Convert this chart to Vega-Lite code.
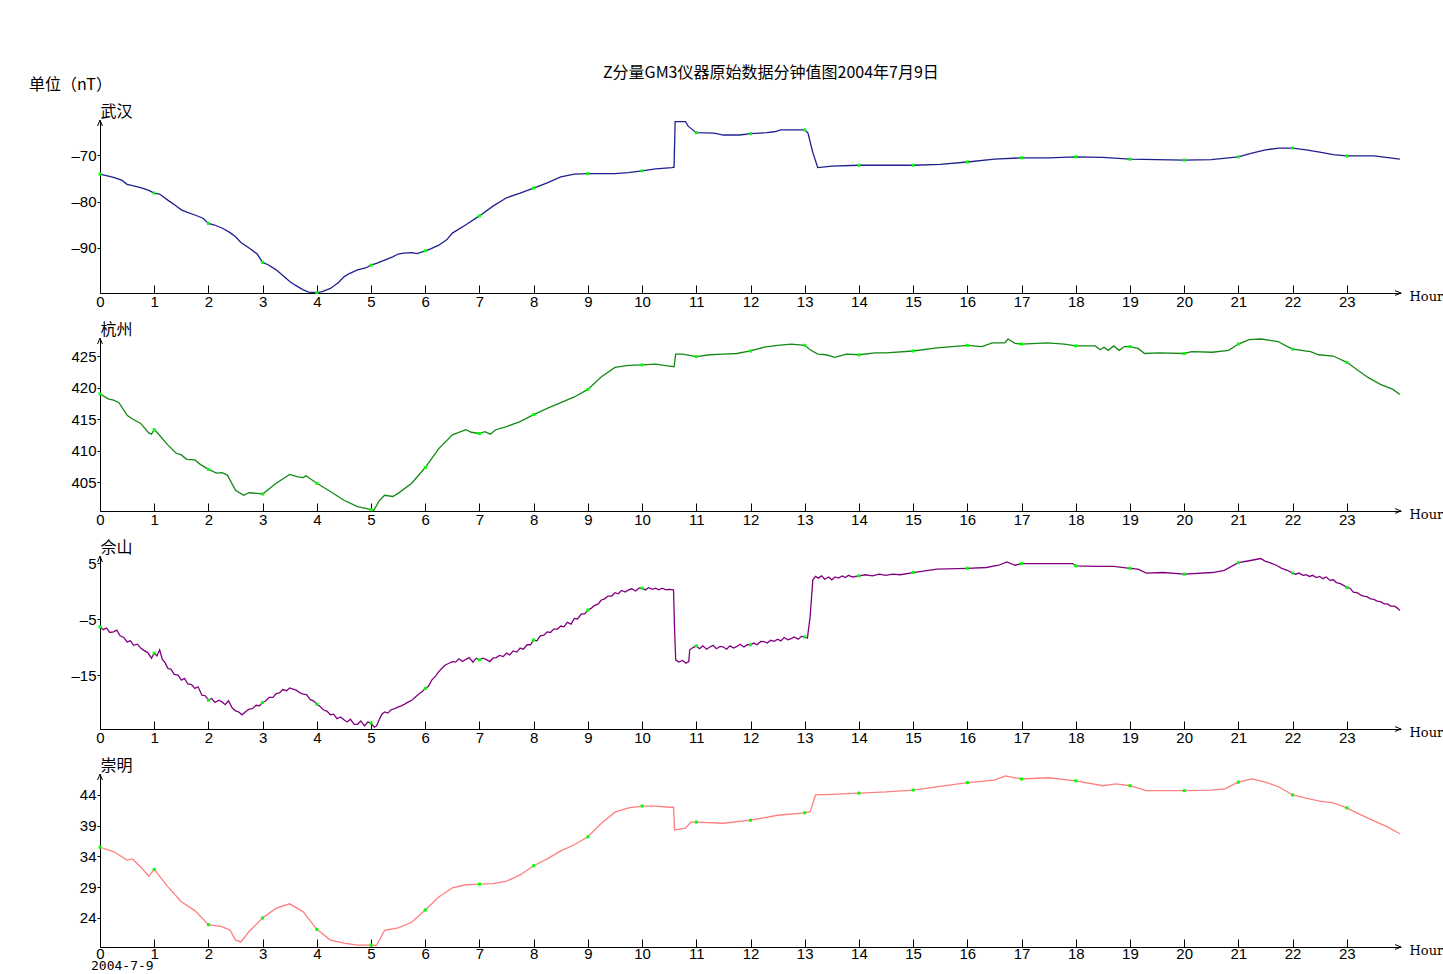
{
  "$schema": "https://vega.github.io/schema/vega-lite/v6.json",
  "background": "white",
  "padding": {"left": 28, "top": 65, "right": 0, "bottom": 0},
  "title": {"text": "Z分量GM3仪器原始数据分钟值图2004年7月9日", "font": "Noto Sans CJK SC", "fontSize": 16, "fontWeight": "normal", "anchor": "middle", "dx": 35, "offset": -4, "color": "black"},
  "datasets": {
    "wh": [
      {"h":0,"v":-74.1},{"h":0.25,"v":-74.8},{"h":0.4,"v":-75.4},{"h":0.5,"v":-76.3},{"h":0.6,"v":-76.6},{"h":0.75,"v":-77.0},{"h":0.9,"v":-77.6},
      {"h":1,"v":-78.2},{"h":1.1,"v":-78.4},{"h":1.25,"v":-79.7},{"h":1.4,"v":-80.9},{"h":1.5,"v":-81.8},{"h":1.6,"v":-82.3},{"h":1.75,"v":-82.9},{"h":1.9,"v":-83.6},
      {"h":2,"v":-84.7},{"h":2.1,"v":-85.0},{"h":2.25,"v":-85.7},{"h":2.4,"v":-86.7},{"h":2.5,"v":-87.6},{"h":2.6,"v":-88.8},{"h":2.75,"v":-90.0},{"h":2.9,"v":-91.3},
      {"h":3,"v":-93.1},{"h":3.1,"v":-93.6},{"h":3.25,"v":-94.7},{"h":3.4,"v":-96.2},{"h":3.5,"v":-97.2},{"h":3.6,"v":-98.0},{"h":3.75,"v":-99.0},{"h":3.85,"v":-99.5},
      {"h":4,"v":-99.6},{"h":4.1,"v":-99.4},{"h":4.25,"v":-98.7},{"h":4.4,"v":-97.4},{"h":4.5,"v":-96.2},{"h":4.6,"v":-95.5},{"h":4.75,"v":-94.7},{"h":4.9,"v":-94.3},
      {"h":5,"v":-93.7},{"h":5.1,"v":-93.3},{"h":5.25,"v":-92.6},{"h":5.4,"v":-91.9},{"h":5.5,"v":-91.3},{"h":5.6,"v":-91.1},{"h":5.75,"v":-91.0},{"h":5.85,"v":-91.2},
      {"h":6,"v":-90.6},{"h":6.1,"v":-90.2},{"h":6.25,"v":-89.4},{"h":6.4,"v":-88.2},{"h":6.5,"v":-86.8},{"h":6.75,"v":-85.0},
      {"h":7,"v":-83.1},{"h":7.25,"v":-81.0},{"h":7.5,"v":-79.2},{"h":7.75,"v":-78.2},{"h":8,"v":-77.1},{"h":8.25,"v":-76.0},{"h":8.5,"v":-74.7},{"h":8.75,"v":-74.1},
      {"h":9,"v":-74.0},{"h":9.5,"v":-74.0},{"h":9.75,"v":-73.8},{"h":10,"v":-73.4},{"h":10.25,"v":-73.0},{"h":10.55,"v":-72.7},{"h":10.59,"v":-72.6},
      {"h":10.61,"v":-62.8},{"h":10.8,"v":-62.8},{"h":10.85,"v":-63.8},{"h":11,"v":-65.2},{"h":11.33,"v":-65.3},{"h":11.5,"v":-65.7},{"h":11.8,"v":-65.7},
      {"h":12,"v":-65.4},{"h":12.3,"v":-65.2},{"h":12.44,"v":-65.0},{"h":12.56,"v":-64.6},{"h":13,"v":-64.6},{"h":13.06,"v":-65.3},{"h":13.15,"v":-69.5},{"h":13.24,"v":-72.7},
      {"h":13.5,"v":-72.4},{"h":14,"v":-72.2},{"h":14.5,"v":-72.2},{"h":15,"v":-72.2},{"h":15.5,"v":-72.0},{"h":16,"v":-71.5},{"h":16.5,"v":-70.9},
      {"h":17,"v":-70.6},{"h":17.5,"v":-70.6},{"h":18,"v":-70.4},{"h":18.5,"v":-70.5},{"h":19,"v":-70.9},{"h":19.5,"v":-71.0},{"h":20,"v":-71.1},{"h":20.5,"v":-71.0},
      {"h":21,"v":-70.4},{"h":21.25,"v":-69.6},{"h":21.5,"v":-68.9},{"h":21.75,"v":-68.5},{"h":22,"v":-68.5},{"h":22.25,"v":-68.9},{"h":22.5,"v":-69.4},{"h":22.75,"v":-69.9},
      {"h":23,"v":-70.2},{"h":23.5,"v":-70.2},{"h":23.98,"v":-70.9}
    ],
    "hz": [
      {"h":0,"v":419.0},{"h":0.15,"v":418.2},{"h":0.25,"v":418.0},{"h":0.35,"v":417.6},{"h":0.5,"v":415.6},{"h":0.6,"v":415.0},{"h":0.75,"v":414.3},{"h":0.9,"v":412.8},{"h":0.95,"v":412.6},
      {"h":1,"v":413.3},{"h":1.05,"v":412.9},{"h":1.25,"v":410.9},{"h":1.4,"v":409.6},{"h":1.5,"v":409.3},{"h":1.6,"v":408.6},{"h":1.75,"v":408.5},{"h":1.85,"v":407.8},
      {"h":2,"v":407.0},{"h":2.15,"v":406.4},{"h":2.25,"v":406.5},{"h":2.35,"v":406.1},{"h":2.5,"v":403.7},{"h":2.65,"v":402.9},{"h":2.75,"v":403.3},{"h":2.9,"v":403.2},
      {"h":3,"v":403.1},{"h":3.25,"v":404.8},{"h":3.5,"v":406.2},{"h":3.65,"v":405.8},{"h":3.75,"v":405.7},{"h":3.8,"v":406.0},
      {"h":4,"v":404.8},{"h":4.25,"v":403.5},{"h":4.5,"v":402.1},{"h":4.75,"v":401.1},{"h":4.9,"v":400.8},
      {"h":5,"v":400.6},{"h":5.05,"v":400.5},{"h":5.15,"v":402.0},{"h":5.25,"v":402.9},{"h":5.4,"v":402.7},{"h":5.5,"v":403.2},{"h":5.75,"v":404.8},
      {"h":6,"v":407.3},{"h":6.25,"v":410.3},{"h":6.5,"v":412.5},{"h":6.75,"v":413.3},{"h":6.85,"v":412.9},
      {"h":7,"v":412.7},{"h":7.1,"v":413.0},{"h":7.2,"v":412.6},{"h":7.3,"v":413.3},{"h":7.5,"v":413.8},{"h":7.75,"v":414.6},
      {"h":8,"v":415.7},{"h":8.25,"v":416.7},{"h":8.5,"v":417.6},{"h":8.75,"v":418.5},{"h":9,"v":419.7},{"h":9.25,"v":421.7},{"h":9.5,"v":423.2},{"h":9.75,"v":423.5},
      {"h":10,"v":423.6},{"h":10.25,"v":423.7},{"h":10.5,"v":423.4},{"h":10.59,"v":423.3},{"h":10.62,"v":425.3},{"h":10.75,"v":425.3},
      {"h":11,"v":424.9},{"h":11.25,"v":425.2},{"h":11.5,"v":425.3},{"h":11.75,"v":425.4},{"h":12,"v":425.8},{"h":12.25,"v":426.4},{"h":12.5,"v":426.7},{"h":12.75,"v":426.9},
      {"h":13,"v":426.7},{"h":13.1,"v":426.0},{"h":13.24,"v":425.3},{"h":13.4,"v":425.2},{"h":13.55,"v":424.8},{"h":13.77,"v":425.3},
      {"h":14,"v":425.2},{"h":14.3,"v":425.5},{"h":14.5,"v":425.5},{"h":15,"v":425.8},{"h":15.44,"v":426.3},{"h":16,"v":426.7},{"h":16.27,"v":426.5},{"h":16.46,"v":427.1},
      {"h":16.69,"v":427.1},{"h":16.75,"v":427.7},{"h":16.88,"v":427.0},{"h":17,"v":426.9},{"h":17.48,"v":427.1},{"h":17.79,"v":426.9},
      {"h":18,"v":426.6},{"h":18.36,"v":426.6},{"h":18.45,"v":426.0},{"h":18.52,"v":426.4},{"h":18.6,"v":425.9},{"h":18.7,"v":426.6},{"h":18.8,"v":425.9},{"h":18.9,"v":426.5},
      {"h":19,"v":426.5},{"h":19.15,"v":426.2},{"h":19.27,"v":425.4},{"h":19.53,"v":425.5},{"h":20,"v":425.4},{"h":20.14,"v":425.7},{"h":20.52,"v":425.6},{"h":20.82,"v":425.9},
      {"h":21,"v":426.9},{"h":21.2,"v":427.6},{"h":21.42,"v":427.7},{"h":21.73,"v":427.3},{"h":21.88,"v":426.6},
      {"h":22,"v":426.1},{"h":22.33,"v":425.7},{"h":22.48,"v":425.2},{"h":22.75,"v":425.0},{"h":23,"v":424.0},{"h":23.39,"v":421.6},{"h":23.62,"v":420.5},{"h":23.85,"v":419.7},{"h":23.98,"v":418.9}
    ],
    "ss": [
      {"h":0,"v":-6.4},{"h":0.06,"v":-6.9},{"h":0.12,"v":-6.6},{"h":0.18,"v":-7.4},{"h":0.25,"v":-7.3},{"h":0.31,"v":-7.0},{"h":0.37,"v":-8.0},{"h":0.44,"v":-8.3},
      {"h":0.5,"v":-9.1},{"h":0.56,"v":-8.9},{"h":0.62,"v":-9.7},{"h":0.69,"v":-9.5},{"h":0.75,"v":-10.2},{"h":0.81,"v":-10.6},{"h":0.88,"v":-11.0},{"h":0.95,"v":-12.0},
      {"h":1,"v":-11.1},{"h":1.05,"v":-11.6},{"h":1.1,"v":-10.5},{"h":1.15,"v":-12.2},{"h":1.2,"v":-12.8},{"h":1.25,"v":-13.8},{"h":1.31,"v":-14.0},{"h":1.37,"v":-14.9},{"h":1.44,"v":-15.0},
      {"h":1.5,"v":-15.9},{"h":1.56,"v":-15.6},{"h":1.62,"v":-16.6},{"h":1.69,"v":-16.7},{"h":1.75,"v":-17.4},{"h":1.81,"v":-17.1},{"h":1.88,"v":-18.6},{"h":1.94,"v":-18.7},
      {"h":2,"v":-19.5},{"h":2.06,"v":-19.2},{"h":2.12,"v":-19.9},{"h":2.19,"v":-19.5},{"h":2.25,"v":-19.8},{"h":2.31,"v":-20.3},{"h":2.37,"v":-19.6},{"h":2.44,"v":-20.9},
      {"h":2.5,"v":-21.4},{"h":2.56,"v":-21.6},{"h":2.62,"v":-22.1},{"h":2.69,"v":-21.5},{"h":2.75,"v":-21.1},{"h":2.81,"v":-21.0},{"h":2.88,"v":-20.4},{"h":2.94,"v":-20.5},
      {"h":3,"v":-19.9},{"h":3.06,"v":-19.6},{"h":3.12,"v":-19.0},{"h":3.19,"v":-19.0},{"h":3.25,"v":-18.3},{"h":3.31,"v":-18.2},{"h":3.37,"v":-17.6},{"h":3.44,"v":-17.8},
      {"h":3.5,"v":-17.3},{"h":3.56,"v":-17.5},{"h":3.62,"v":-17.7},{"h":3.69,"v":-18.2},{"h":3.75,"v":-18.4},{"h":3.81,"v":-18.5},{"h":3.88,"v":-19.4},{"h":3.94,"v":-19.6},
      {"h":4,"v":-20.2},{"h":4.06,"v":-20.6},{"h":4.12,"v":-21.2},{"h":4.19,"v":-21.5},{"h":4.25,"v":-22.1},{"h":4.31,"v":-22.0},{"h":4.37,"v":-22.8},{"h":4.44,"v":-22.5},
      {"h":4.5,"v":-23.0},{"h":4.56,"v":-23.4},{"h":4.62,"v":-22.9},{"h":4.69,"v":-23.8},{"h":4.75,"v":-23.8},{"h":4.81,"v":-23.2},{"h":4.88,"v":-24.1},{"h":4.94,"v":-23.4},
      {"h":5,"v":-23.6},{"h":5.06,"v":-24.3},{"h":5.1,"v":-24.1},{"h":5.15,"v":-23.0},{"h":5.2,"v":-22.0},{"h":5.25,"v":-21.6},{"h":5.31,"v":-21.8},{"h":5.37,"v":-21.2},{"h":5.44,"v":-21.0},
      {"h":5.5,"v":-20.7},{"h":5.56,"v":-20.5},{"h":5.62,"v":-20.2},{"h":5.69,"v":-19.8},{"h":5.75,"v":-19.5},{"h":5.81,"v":-19.0},{"h":5.88,"v":-18.4},{"h":5.94,"v":-18.0},
      {"h":6,"v":-17.4},{"h":6.06,"v":-17.0},{"h":6.12,"v":-15.9},{"h":6.19,"v":-15.2},{"h":6.25,"v":-14.4},{"h":6.31,"v":-13.8},{"h":6.37,"v":-13.2},{"h":6.44,"v":-12.9},
      {"h":6.5,"v":-12.6},{"h":6.56,"v":-12.7},{"h":6.62,"v":-12.1},{"h":6.69,"v":-12.6},{"h":6.75,"v":-12.2},{"h":6.81,"v":-11.9},{"h":6.88,"v":-12.7},{"h":6.94,"v":-12.0},
      {"h":7,"v":-12.3},{"h":7.06,"v":-12.0},{"h":7.12,"v":-12.2},{"h":7.19,"v":-12.6},{"h":7.25,"v":-12.0},{"h":7.31,"v":-11.9},{"h":7.37,"v":-11.5},{"h":7.44,"v":-11.7},
      {"h":7.5,"v":-11.1},{"h":7.56,"v":-11.4},{"h":7.62,"v":-10.7},{"h":7.69,"v":-10.9},{"h":7.75,"v":-10.2},{"h":7.81,"v":-10.4},{"h":7.88,"v":-9.6},{"h":7.94,"v":-9.6},
      {"h":8,"v":-8.75},{"h":8.06,"v":-8.9},{"h":8.12,"v":-8.0},{"h":8.19,"v":-7.9},{"h":8.25,"v":-7.3},{"h":8.31,"v":-7.4},{"h":8.37,"v":-6.8},{"h":8.44,"v":-6.8},
      {"h":8.5,"v":-6.25},{"h":8.56,"v":-6.4},{"h":8.62,"v":-5.6},{"h":8.69,"v":-5.9},{"h":8.75,"v":-4.9},{"h":8.81,"v":-5.0},{"h":8.88,"v":-4.1},{"h":8.94,"v":-4.1},
      {"h":9,"v":-3.4},{"h":9.06,"v":-3.1},{"h":9.12,"v":-2.6},{"h":9.19,"v":-2.3},{"h":9.25,"v":-1.6},{"h":9.31,"v":-1.4},{"h":9.37,"v":-0.9},{"h":9.44,"v":-0.9},
      {"h":9.5,"v":-0.3},{"h":9.56,"v":-0.5},{"h":9.62,"v":0.1},{"h":9.69,"v":-0.2},{"h":9.75,"v":0.2},{"h":9.81,"v":0.4},{"h":9.88,"v":0.0},{"h":9.94,"v":0.5},
      {"h":10,"v":0.5},{"h":10.06,"v":0.2},{"h":10.12,"v":0.6},{"h":10.19,"v":0.3},{"h":10.25,"v":0.5},{"h":10.31,"v":0.2},{"h":10.37,"v":0.5},{"h":10.44,"v":0.2},
      {"h":10.5,"v":0.3},{"h":10.58,"v":0.2},{"h":10.6,"v":-7.0},{"h":10.62,"v":-12.3},{"h":10.68,"v":-12.7},{"h":10.75,"v":-12.4},{"h":10.81,"v":-12.9},{"h":10.86,"v":-12.6},
      {"h":10.88,"v":-10.5},{"h":10.94,"v":-10.1},
      {"h":11,"v":-9.8},{"h":11.06,"v":-10.3},{"h":11.12,"v":-9.8},{"h":11.19,"v":-10.4},{"h":11.25,"v":-10.0},{"h":11.31,"v":-9.7},{"h":11.37,"v":-10.3},{"h":11.44,"v":-9.9},
      {"h":11.5,"v":-10.0},{"h":11.56,"v":-10.4},{"h":11.62,"v":-9.8},{"h":11.69,"v":-10.2},{"h":11.75,"v":-9.9},{"h":11.81,"v":-9.5},{"h":11.88,"v":-10.0},{"h":11.94,"v":-9.6},
      {"h":12,"v":-9.6},{"h":12.06,"v":-9.3},{"h":12.12,"v":-9.6},{"h":12.19,"v":-9.0},{"h":12.25,"v":-9.05},{"h":12.31,"v":-9.3},{"h":12.37,"v":-8.8},{"h":12.44,"v":-9.0},
      {"h":12.5,"v":-8.6},{"h":12.56,"v":-8.9},{"h":12.62,"v":-8.3},{"h":12.69,"v":-8.7},{"h":12.75,"v":-8.5},{"h":12.81,"v":-8.2},{"h":12.88,"v":-8.6},{"h":12.94,"v":-8.1},
      {"h":13,"v":-8.2},{"h":13.05,"v":-8.4},{"h":13.1,"v":-4.6},{"h":13.15,"v":2.0},{"h":13.2,"v":2.6},{"h":13.25,"v":2.3},{"h":13.31,"v":2.7},{"h":13.37,"v":2.1},{"h":13.44,"v":2.5},
      {"h":13.5,"v":2.0},{"h":13.56,"v":2.5},{"h":13.62,"v":2.3},{"h":13.69,"v":2.7},{"h":13.75,"v":2.4},{"h":13.81,"v":2.8},{"h":13.88,"v":2.5},
      {"h":14,"v":2.7},{"h":14.12,"v":2.9},{"h":14.25,"v":2.7},{"h":14.37,"v":3.0},{"h":14.5,"v":2.8},{"h":14.62,"v":3.0},{"h":14.76,"v":2.9},{"h":15,"v":3.3},{"h":15.44,"v":3.9},
      {"h":16,"v":4.05},{"h":16.35,"v":4.2},{"h":16.58,"v":4.6},{"h":16.73,"v":5.2},{"h":16.88,"v":4.6},
      {"h":17,"v":4.9},{"h":17.48,"v":4.9},{"h":17.94,"v":4.9},{"h":18,"v":4.5},{"h":18.39,"v":4.4},{"h":18.7,"v":4.4},
      {"h":19,"v":4.05},{"h":19.15,"v":3.9},{"h":19.3,"v":3.2},{"h":19.61,"v":3.3},{"h":20,"v":3.0},{"h":20.52,"v":3.3},{"h":20.74,"v":3.7},
      {"h":21,"v":5.05},{"h":21.2,"v":5.4},{"h":21.41,"v":5.8},{"h":21.5,"v":5.3},{"h":21.58,"v":5.05},{"h":21.7,"v":4.6},{"h":21.8,"v":4.05},{"h":21.9,"v":3.7},
      {"h":22,"v":3.2},{"h":22.06,"v":3.0},{"h":22.12,"v":3.2},{"h":22.19,"v":2.8},{"h":22.25,"v":2.9},{"h":22.31,"v":2.6},{"h":22.37,"v":2.8},{"h":22.44,"v":2.4},
      {"h":22.5,"v":2.6},{"h":22.56,"v":2.2},{"h":22.62,"v":2.5},{"h":22.69,"v":1.9},{"h":22.75,"v":2.0},{"h":22.81,"v":1.5},{"h":22.88,"v":1.3},{"h":22.94,"v":1.0},
      {"h":23,"v":0.65},{"h":23.06,"v":0.5},{"h":23.12,"v":-0.2},{"h":23.19,"v":-0.3},{"h":23.25,"v":-0.7},{"h":23.31,"v":-0.9},{"h":23.37,"v":-1.0},{"h":23.44,"v":-1.4},
      {"h":23.5,"v":-1.5},{"h":23.56,"v":-1.8},{"h":23.62,"v":-1.9},{"h":23.69,"v":-2.3},{"h":23.75,"v":-2.3},{"h":23.81,"v":-2.7},{"h":23.88,"v":-2.7},{"h":23.94,"v":-3.1},{"h":23.98,"v":-3.5}
    ],
    "cm": [
      {"h":0,"v":35.5},{"h":0.25,"v":34.8},{"h":0.5,"v":33.4},{"h":0.6,"v":33.6},{"h":0.75,"v":32.3},{"h":0.9,"v":30.8},
      {"h":1,"v":31.9},{"h":1.25,"v":29.1},{"h":1.5,"v":26.65},{"h":1.75,"v":25.2},
      {"h":2,"v":22.9},{"h":2.25,"v":22.6},{"h":2.4,"v":22.0},{"h":2.5,"v":20.4},{"h":2.6,"v":20.1},{"h":2.75,"v":21.8},
      {"h":3,"v":24.0},{"h":3.25,"v":25.6},{"h":3.5,"v":26.3},{"h":3.75,"v":25.0},
      {"h":4,"v":22.15},{"h":4.25,"v":20.4},{"h":4.5,"v":19.9},{"h":4.75,"v":19.6},
      {"h":5,"v":19.6},{"h":5.1,"v":19.5},{"h":5.25,"v":22.0},{"h":5.5,"v":22.4},{"h":5.75,"v":23.3},
      {"h":6,"v":25.3},{"h":6.25,"v":27.4},{"h":6.5,"v":28.9},{"h":6.75,"v":29.4},
      {"h":7,"v":29.5},{"h":7.25,"v":29.6},{"h":7.5,"v":30.0},{"h":7.75,"v":31.0},
      {"h":8,"v":32.5},{"h":8.25,"v":33.6},{"h":8.5,"v":34.9},{"h":8.75,"v":35.9},
      {"h":9,"v":37.2},{"h":9.25,"v":39.4},{"h":9.5,"v":41.2},{"h":9.75,"v":41.9},
      {"h":10,"v":42.2},{"h":10.25,"v":42.2},{"h":10.5,"v":42.0},{"h":10.58,"v":42.0},{"h":10.6,"v":38.3},{"h":10.8,"v":38.6},{"h":10.9,"v":39.6},
      {"h":11,"v":39.6},{"h":11.5,"v":39.4},{"h":12,"v":39.9},{"h":12.5,"v":40.7},
      {"h":13,"v":41.1},{"h":13.1,"v":41.3},{"h":13.2,"v":44.0},{"h":13.5,"v":44.1},
      {"h":14,"v":44.3},{"h":14.5,"v":44.5},{"h":15,"v":44.8},{"h":15.5,"v":45.4},
      {"h":16,"v":46.0},{"h":16.5,"v":46.4},{"h":16.7,"v":47.1},{"h":17,"v":46.6},{"h":17.5,"v":46.8},
      {"h":18,"v":46.3},{"h":18.5,"v":45.5},{"h":18.75,"v":45.8},{"h":19,"v":45.5},{"h":19.3,"v":44.7},
      {"h":20,"v":44.7},{"h":20.5,"v":44.8},{"h":20.75,"v":45.0},
      {"h":21,"v":46.1},{"h":21.25,"v":46.6},{"h":21.5,"v":46.1},{"h":21.75,"v":45.3},
      {"h":22,"v":44.0},{"h":22.25,"v":43.5},{"h":22.5,"v":43.0},{"h":22.75,"v":42.7},
      {"h":23,"v":41.9},{"h":23.25,"v":40.8},{"h":23.5,"v":39.8},{"h":23.75,"v":38.8},{"h":23.98,"v":37.7}
    ]
  },
  "config": {
    "view": {"stroke": null},
    "axis": {"domainColor": "black", "tickColor": "black", "labelColor": "black", "titleColor": "black", "grid": false, "labelFont": "Liberation Sans", "labelFontSize": 15, "domainWidth": 1, "tickWidth": 1}
  },
  "bounds": "flush",
  "spacing": 45,
  "vconcat": [
    {
      "width": 1301, "height": 173,
      "title": {"text": "单位（nT）", "anchor": "start", "dx": -42, "offset": 10, "font": "Noto Sans CJK SC", "fontSize": 16, "fontWeight": "normal", "color": "black"},
      "data": {"name": "wh"},
      "layer": [
        {"mark": {"type": "line", "color": "#1f1f8f", "strokeWidth": 1.3},
         "encoding": {
           "x": {"field": "h", "type": "quantitative", "scale": {"domain": [0, 24], "nice": false, "zero": false},
                 "axis": {"values": [0,0.5,1,1.5,2,2.5,3,3.5,4,4.5,5,5.5,6,6.5,7,7.5,8,8.5,9,9.5,10,10.5,11,11.5,12,12.5,13,13.5,14,14.5,15,15.5,16,16.5,17,17.5,18,18.5,19,19.5,20,20.5,21,21.5,22,22.5,23,23.5],
                          "labelExpr": "datum.value % 1 === 0 ? datum.value : ''", "labelOverlap": false, "labelFlush": false, "labelPadding": 9,
                          "tickSize": {"condition": {"test": "datum.value % 1 === 0", "value": -8}, "value": -5},
                          "title": "Hour", "titleX": 1309, "titleY": 3, "titleAlign": "left", "titleBaseline": "middle", "titleAngle": 0, "titleFont": "DejaVu Serif", "titleFontSize": 13, "titleFontWeight": "normal"}},
           "y": {"field": "v", "type": "quantitative", "scale": {"domain": [-99.68, -62.47], "nice": false, "zero": false},
                 "axis": {"values": [-90, -80, -70], "labelExpr": "replace(datum.label, '−', '–')", "tickSize": 3, "labelPadding": 1,
                          "title": "武汉", "titleAngle": 0, "titleX": 0, "titleY": -4, "titleAlign": "left", "titleBaseline": "alphabetic", "titleFont": "Noto Sans CJK SC", "titleFontSize": 16, "titleFontWeight": "normal"}}
         }},
        {"transform": [{"filter": "datum.h % 1 === 0"}],
         "mark": {"type": "square", "color": "#00ff00", "size": 9, "opacity": 1},
         "encoding": {"x": {"field": "h", "type": "quantitative"}, "y": {"field": "v", "type": "quantitative"}}},
        {"data": {"values": [{}]}, "mark": {"type": "point", "shape": "M-0.8,2L0,0L0.8,2", "filled": false, "stroke": "black", "strokeWidth": 1, "size": 36, "opacity": 1},
         "encoding": {"x": {"datum": 0}, "y": {"datum": -62.47}}},
        {"data": {"values": [{}]}, "mark": {"type": "point", "shape": "M-2,-0.8L0,0L-2,0.8", "filled": false, "stroke": "black", "strokeWidth": 1, "size": 36, "opacity": 1},
         "encoding": {"x": {"datum": 24}, "y": {"datum": -99.68}}}
      ]
    },
    {
      "width": 1301, "height": 173,
      "data": {"name": "hz"},
      "layer": [
        {"mark": {"type": "line", "color": "#138a13", "strokeWidth": 1.3},
         "encoding": {
           "x": {"field": "h", "type": "quantitative", "scale": {"domain": [0, 24], "nice": false, "zero": false},
                 "axis": {"values": [0,0.5,1,1.5,2,2.5,3,3.5,4,4.5,5,5.5,6,6.5,7,7.5,8,8.5,9,9.5,10,10.5,11,11.5,12,12.5,13,13.5,14,14.5,15,15.5,16,16.5,17,17.5,18,18.5,19,19.5,20,20.5,21,21.5,22,22.5,23,23.5],
                          "labelExpr": "datum.value % 1 === 0 ? datum.value : ''", "labelOverlap": false, "labelFlush": false, "labelPadding": 9,
                          "tickSize": {"condition": {"test": "datum.value % 1 === 0", "value": -8}, "value": -5},
                          "title": "Hour", "titleX": 1309, "titleY": 3, "titleAlign": "left", "titleBaseline": "middle", "titleAngle": 0, "titleFont": "DejaVu Serif", "titleFontSize": 13, "titleFontWeight": "normal"}},
           "y": {"field": "v", "type": "quantitative", "scale": {"domain": [400.4, 427.86], "nice": false, "zero": false},
                 "axis": {"values": [405, 410, 415, 420, 425], "tickSize": 3, "labelPadding": 1,
                          "title": "杭州", "titleAngle": 0, "titleX": 0, "titleY": -4, "titleAlign": "left", "titleBaseline": "alphabetic", "titleFont": "Noto Sans CJK SC", "titleFontSize": 16, "titleFontWeight": "normal"}}
         }},
        {"transform": [{"filter": "datum.h % 1 === 0"}],
         "mark": {"type": "square", "color": "#00ff00", "size": 9, "opacity": 1},
         "encoding": {"x": {"field": "h", "type": "quantitative"}, "y": {"field": "v", "type": "quantitative"}}},
        {"data": {"values": [{}]}, "mark": {"type": "point", "shape": "M-0.8,2L0,0L0.8,2", "filled": false, "stroke": "black", "strokeWidth": 1, "size": 36, "opacity": 1},
         "encoding": {"x": {"datum": 0}, "y": {"datum": 427.86}}},
        {"data": {"values": [{}]}, "mark": {"type": "point", "shape": "M-2,-0.8L0,0L-2,0.8", "filled": false, "stroke": "black", "strokeWidth": 1, "size": 36, "opacity": 1},
         "encoding": {"x": {"datum": 24}, "y": {"datum": 400.4}}}
      ]
    },
    {
      "width": 1301, "height": 173,
      "data": {"name": "ss"},
      "layer": [
        {"mark": {"type": "line", "color": "#800080", "strokeWidth": 1.3},
         "encoding": {
           "x": {"field": "h", "type": "quantitative", "scale": {"domain": [0, 24], "nice": false, "zero": false},
                 "axis": {"values": [0,0.5,1,1.5,2,2.5,3,3.5,4,4.5,5,5.5,6,6.5,7,7.5,8,8.5,9,9.5,10,10.5,11,11.5,12,12.5,13,13.5,14,14.5,15,15.5,16,16.5,17,17.5,18,18.5,19,19.5,20,20.5,21,21.5,22,22.5,23,23.5],
                          "labelExpr": "datum.value % 1 === 0 ? datum.value : ''", "labelOverlap": false, "labelFlush": false, "labelPadding": 9,
                          "tickSize": {"condition": {"test": "datum.value % 1 === 0", "value": -8}, "value": -5},
                          "title": "Hour", "titleX": 1309, "titleY": 3, "titleAlign": "left", "titleBaseline": "middle", "titleAngle": 0, "titleFont": "DejaVu Serif", "titleFontSize": 13, "titleFontWeight": "normal"}},
           "y": {"field": "v", "type": "quantitative", "scale": {"domain": [-24.64, 6.25], "nice": false, "zero": false},
                 "axis": {"values": [-15, -5, 5], "labelExpr": "replace(datum.label, '−', '–')", "tickSize": 3, "labelPadding": 1,
                          "title": "佘山", "titleAngle": 0, "titleX": 0, "titleY": -4, "titleAlign": "left", "titleBaseline": "alphabetic", "titleFont": "Noto Sans CJK SC", "titleFontSize": 16, "titleFontWeight": "normal"}}
         }},
        {"transform": [{"filter": "datum.h % 1 === 0"}],
         "mark": {"type": "square", "color": "#00ff00", "size": 9, "opacity": 1},
         "encoding": {"x": {"field": "h", "type": "quantitative"}, "y": {"field": "v", "type": "quantitative"}}},
        {"data": {"values": [{}]}, "mark": {"type": "point", "shape": "M-0.8,2L0,0L0.8,2", "filled": false, "stroke": "black", "strokeWidth": 1, "size": 36, "opacity": 1},
         "encoding": {"x": {"datum": 0}, "y": {"datum": 6.25}}},
        {"data": {"values": [{}]}, "mark": {"type": "point", "shape": "M-2,-0.8L0,0L-2,0.8", "filled": false, "stroke": "black", "strokeWidth": 1, "size": 36, "opacity": 1},
         "encoding": {"x": {"datum": 24}, "y": {"datum": -24.64}}}
      ]
    },
    {
      "width": 1301, "height": 173,
      "data": {"name": "cm"},
      "layer": [
        {"mark": {"type": "line", "color": "#ff7f7f", "strokeWidth": 1.3},
         "encoding": {
           "x": {"field": "h", "type": "quantitative", "scale": {"domain": [0, 24], "nice": false, "zero": false},
                 "axis": {"values": [0,0.5,1,1.5,2,2.5,3,3.5,4,4.5,5,5.5,6,6.5,7,7.5,8,8.5,9,9.5,10,10.5,11,11.5,12,12.5,13,13.5,14,14.5,15,15.5,16,16.5,17,17.5,18,18.5,19,19.5,20,20.5,21,21.5,22,22.5,23,23.5],
                          "labelExpr": "datum.value % 1 === 0 ? datum.value : ''", "labelOverlap": false, "labelFlush": false, "labelPadding": 7,
                          "tickSize": {"condition": {"test": "datum.value % 1 === 0", "value": -8}, "value": -5},
                          "title": "Hour", "titleX": 1309, "titleY": 3, "titleAlign": "left", "titleBaseline": "middle", "titleAngle": 0, "titleFont": "DejaVu Serif", "titleFontSize": 13, "titleFontWeight": "normal"}},
           "y": {"field": "v", "type": "quantitative", "scale": {"domain": [19.28, 47.41], "nice": false, "zero": false},
                 "axis": {"values": [24, 29, 34, 39, 44], "tickSize": 3, "labelPadding": 1,
                          "title": "崇明", "titleAngle": 0, "titleX": 0, "titleY": -4, "titleAlign": "left", "titleBaseline": "alphabetic", "titleFont": "Noto Sans CJK SC", "titleFontSize": 16, "titleFontWeight": "normal"}}
         }},
        {"transform": [{"filter": "datum.h % 1 === 0"}],
         "mark": {"type": "square", "color": "#00ff00", "size": 9, "opacity": 1},
         "encoding": {"x": {"field": "h", "type": "quantitative"}, "y": {"field": "v", "type": "quantitative"}}},
        {"data": {"values": [{}]}, "mark": {"type": "point", "shape": "M-0.8,2L0,0L0.8,2", "filled": false, "stroke": "black", "strokeWidth": 1, "size": 36, "opacity": 1},
         "encoding": {"x": {"datum": 0}, "y": {"datum": 47.41}}},
        {"data": {"values": [{}]}, "mark": {"type": "point", "shape": "M-2,-0.8L0,0L-2,0.8", "filled": false, "stroke": "black", "strokeWidth": 1, "size": 36, "opacity": 1},
         "encoding": {"x": {"datum": 24}, "y": {"datum": 19.28}}},
        {"data": {"values": [{}]}, "mark": {"type": "text", "align": "left", "baseline": "top", "dx": -9, "dy": 13, "font": "DejaVu Sans Mono", "fontSize": 13, "color": "black", "text": "2004-7-9"},
         "encoding": {"x": {"datum": 0}, "y": {"datum": 19.28}}}
      ]
    }
  ]
}
